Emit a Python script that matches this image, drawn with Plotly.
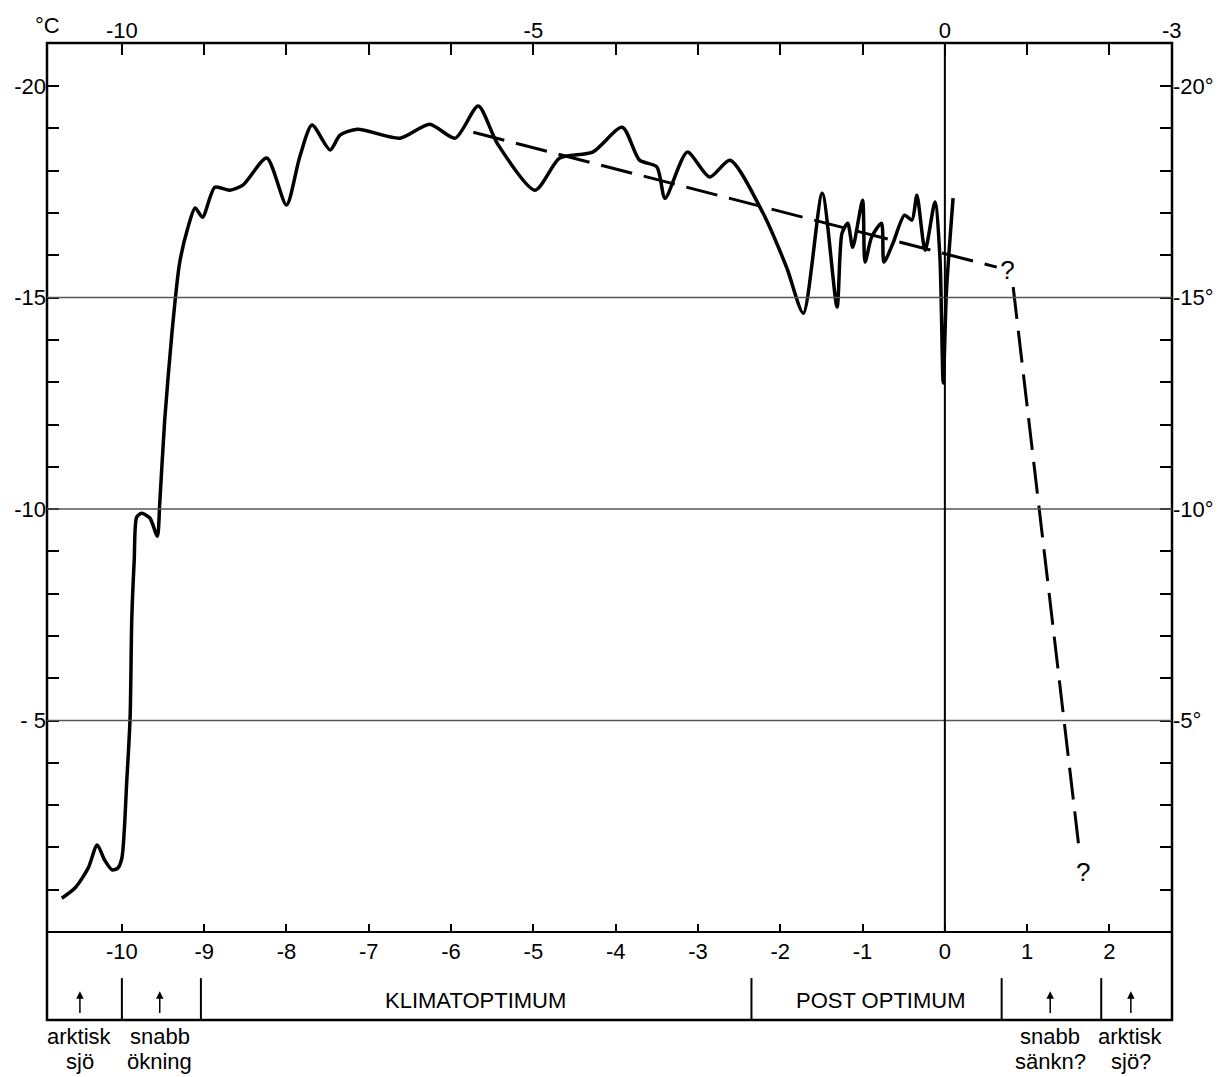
import plotly.graph_objects as go

# ---- data ----
curve_x = [-10.73, -10.57, -10.41, -10.30, -10.21, -10.12, -10.05, -10.00, -9.94, -9.90,
           -9.88, -9.85, -9.82, -9.76, -9.66, -9.57, -9.54, -9.48, -9.39, -9.30,
           -9.20, -9.11, -9.02, -8.87, -8.69, -8.53, -8.24, -8.00, -7.84, -7.69,
           -7.47, -7.35, -7.14, -6.62, -6.26, -5.95, -5.67, -5.44, -4.98, -4.68,
           -4.28, -3.92, -3.71, -3.50, -3.40, -3.13, -2.86, -2.61, -2.21, -1.92,
           -1.72, -1.49, -1.31, -1.25, -1.18, -1.12, -1.00, -0.97, -0.89, -0.77,
           -0.74, -0.63, -0.49, -0.40, -0.34, -0.24, -0.12, -0.06, -0.02, 0.02, 0.10]
curve_y = [-0.80, -1.04, -1.51, -2.06, -1.70, -1.47, -1.51, -1.75, -3.60, -5.08,
           -7.40, -8.80, -9.81, -9.90, -9.79, -9.36, -10.14, -12.10, -14.20, -15.80,
           -16.64, -17.12, -16.90, -17.61, -17.54, -17.66, -18.30, -17.19, -18.32, -19.08,
           -18.49, -18.84, -18.98, -18.77, -19.10, -18.77, -19.53, -18.65, -17.54, -18.30,
           -18.44, -19.03, -18.25, -18.09, -17.35, -18.44, -17.85, -18.25, -17.00, -15.70,
           -14.63, -17.47, -14.78, -16.52, -16.76, -16.19, -17.30, -15.84, -16.43, -16.76,
           -15.84, -16.29, -16.95, -16.83, -17.42, -16.12, -17.26, -15.96, -12.98, -15.18, -17.35]

trend_x = [-5.73, 0.63]
trend_y = [-18.91, -15.72]
drop_x = [0.83, 1.64]
drop_y = [-15.25, -1.82]
question_x = [0.76, 1.68]
question_y = [-15.6, -1.35]

bottom_ticks = [-10, -9, -8, -7, -6, -5, -4, -3, -2, -1, 0, 1, 2]
bottom_labels = [str(v) for v in bottom_ticks]
top_labels = ['-10', '', '', '', '', '-5', '', '', '', '', '0', '', '']
y_ticks = list(range(-20, 0))
y_left_labels = {-20: '-20', -15: '-15', -10: '-10', -5: '- 5'}
y_right_labels = {-20: '-20°', -15: '-15°', -10: '-10°', -5: '-5°'}
grid_levels = [-15, -10, -5]

period_dividers = [-10.0, -9.04, -2.35, 0.69, 1.9]
period_names = [('KLIMATOPTIMUM', -5.7), ('POST OPTIMUM', -0.78)]
notes = [(-10.51, 'arktisk', 'sjö'), (-9.54, 'snabb', 'ökning'),
         (1.28, 'snabb', 'sänkn?'), (2.26, 'arktisk', 'sjö?')]

XR = [-10.91, 2.76]
YR = [2.08, -21.02]

NUM_FONT = dict(family='Liberation Sans Narrow, Liberation Sans, Arial, sans-serif', size=22, color='black')
TXT_FONT = dict(family='Liberation Sans, Arial, sans-serif', size=22, color='black')

fig = go.Figure()

fig.add_trace(go.Scatter(x=curve_x, y=curve_y, mode='lines',
                         line=dict(color='black', width=3.5, shape='spline', smoothing=0.7),
                         hoverinfo='skip', showlegend=False))
fig.add_trace(go.Scatter(x=trend_x, y=trend_y, mode='lines', yaxis='y2',
                         line=dict(color='black', width=3, dash='32px,12px'),
                         hoverinfo='skip', showlegend=False))
fig.add_trace(go.Scatter(x=drop_x, y=drop_y, mode='lines', yaxis='y2',
                         line=dict(color='black', width=3, dash='32px,12px'),
                         hoverinfo='skip', showlegend=False))
fig.add_trace(go.Scatter(x=question_x, y=question_y, mode='text', xaxis='x2',
                         text=['?', '?'], textfont=dict(family=TXT_FONT['family'], size=26, color='black'),
                         hoverinfo='skip', showlegend=False, cliponaxis=False))

shapes = []
shapes.append(dict(type='rect', xref='paper', yref='paper', x0=0, x1=1, y0=0, y1=1,
                   line=dict(color='black', width=2.5)))
for g in grid_levels:
    shapes.append(dict(type='line', xref='paper', yref='y', x0=0, x1=1, y0=g, y1=g,
                       line=dict(color='#555555', width=1.5)))
shapes.append(dict(type='line', xref='x', yref='y', x0=0, x1=0, y0=0, y1=YR[1],
                   line=dict(color='black', width=2)))
for d in period_dividers:
    shapes.append(dict(type='line', xref='x', yref='y', x0=d, x1=d, y0=1.09, y1=YR[0],
                       line=dict(color='black', width=2)))

annotations = []
for name, xc in period_names:
    annotations.append(dict(x=xc, y=1.62, xref='x', yref='y', text=name, showarrow=False,
                            font=TXT_FONT, xanchor='center', yanchor='middle'))
for xa, l1, l2 in notes:
    annotations.append(dict(x=xa, y=1.40, xref='x', yref='y', ax=xa, ay=1.95, axref='x', ayref='y',
                            text='', showarrow=True, arrowhead=2, arrowsize=1, arrowwidth=1.5,
                            arrowcolor='black'))
    annotations.append(dict(x=xa, y=-0.0164, xref='x', yref='paper', text=l1, showarrow=False,
                            font=TXT_FONT, xanchor='center', yanchor='middle'))
    annotations.append(dict(x=xa, y=-0.042, xref='x', yref='paper', text=l2, showarrow=False,
                            font=TXT_FONT, xanchor='center', yanchor='middle'))
annotations.append(dict(x=0, y=1.0, xref='paper', yref='paper', text='°C', showarrow=False,
                        font=NUM_FONT, xanchor='center', yanchor='bottom', yshift=3))
annotations.append(dict(x=1, y=1.0, xref='paper', yref='paper', text='-3', showarrow=False,
                        font=NUM_FONT, xanchor='center', yanchor='bottom', yshift=-2))

fig.update_layout(
    width=1214, height=1069,
    margin=dict(l=39, r=50, t=35, b=57, autoexpand=False),
    paper_bgcolor='white', plot_bgcolor='white',
    showlegend=False, hovermode=False,
    shapes=shapes, annotations=annotations,
    xaxis=dict(range=XR, side='top', anchor='y', showgrid=False, zeroline=False, showline=False,
               automargin=False,
               tickmode='array', tickvals=bottom_ticks, ticktext=top_labels,
               ticks='inside', ticklen=12, tickwidth=2, tickcolor='black', tickfont=NUM_FONT),
    xaxis2=dict(range=XR, overlaying='x', anchor='free', position=(0 - YR[0]) / (YR[1] - YR[0]),
                side='bottom', showgrid=False, zeroline=False, showline=True, linecolor='black',
                automargin=False,
                linewidth=2, tickmode='array', tickvals=bottom_ticks, ticktext=bottom_labels,
                ticks='inside', ticklen=7, tickwidth=2, tickcolor='black', tickfont=NUM_FONT,
                ticklabelstandoff=0),
    yaxis=dict(range=YR, showgrid=False, zeroline=False, showline=False, automargin=False,
               tickmode='array', tickvals=y_ticks,
               ticktext=[y_left_labels.get(v, '') for v in y_ticks],
               ticks='inside', ticklen=12, tickwidth=2, tickcolor='black', tickfont=NUM_FONT),
    yaxis2=dict(range=YR, overlaying='y', side='right', anchor='x', showgrid=False, zeroline=False,
                showline=False, automargin=False, tickmode='array', tickvals=y_ticks,
                ticktext=[y_right_labels.get(v, '') for v in y_ticks],
                ticks='inside', ticklen=12, tickwidth=2, tickcolor='black', tickfont=NUM_FONT),
)

fig.write_html('out.html', config={'displayModeBar': False})
